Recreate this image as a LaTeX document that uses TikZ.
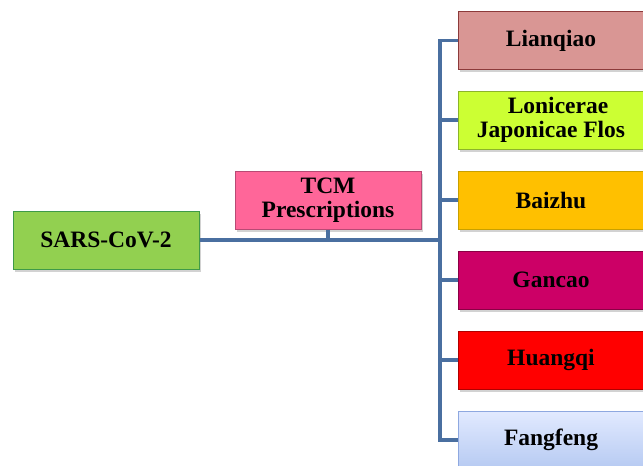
\documentclass[tikz,border=0pt]{standalone}
\usepackage{fontspec}
\setmainfont{Liberation Serif}
\usetikzlibrary{shadows}
\definecolor{linec}{HTML}{4A6FA0}
\definecolor{sarsf}{HTML}{92D050}\definecolor{sarsd}{HTML}{3E9A48}
\definecolor{tcmf}{HTML}{FF6699}\definecolor{tcmd}{HTML}{B84A74}
\definecolor{lqf}{HTML}{D99694}\definecolor{lqd}{HTML}{8C3A3A}
\definecolor{lof}{HTML}{CCFF33}\definecolor{lod}{HTML}{8CB42A}
\definecolor{bzf}{HTML}{FFC000}\definecolor{bzd}{HTML}{C8A000}
\definecolor{gcf}{HTML}{CC0066}\definecolor{gcd}{HTML}{8A0044}
\definecolor{hqf}{HTML}{FF0000}\definecolor{hqd}{HTML}{B00000}
\definecolor{fft}{HTML}{E2EAFF}\definecolor{ffb}{HTML}{B6CAF2}\definecolor{ffd}{HTML}{8EA8E0}
\begin{document}
\begin{tikzpicture}[x=1pt,y=-1pt,
  box/.style={draw, line width=1pt, minimum width=186pt, minimum height=58pt,
    font=\fontsize{23.5}{24.5}\selectfont\bfseries, align=center, inner sep=0pt,
    drop shadow={shadow xshift=2pt, shadow yshift=-2.5pt, opacity=0.35}},
  rbox/.style={box, minimum width=200pt},
  conn/.style={draw=linec, line width=3.5pt}]
\clip (0,0) rectangle (643,466);
\fill[white] (0,0) rectangle (643,466);
\node[box, fill=sarsf, draw=sarsd] (sars) at (106,240) {SARS-CoV-2};
\node[box, fill=tcmf, draw=tcmd] (tcm) at (328,200) {TCM\\Prescriptions};
\node[rbox, fill=lqf, draw=lqd] (b1) at (558,40.5) {Lianqiao\hspace*{14pt}};
\node[rbox, fill=lof, draw=lod] (b2) at (558,120) {Lonicerae\\Japonicae Flos\hspace*{14pt}};
\node[rbox, fill=bzf, draw=bzd] (b3) at (558,200) {Baizhu\hspace*{14pt}};
\node[rbox, fill=gcf, draw=gcd] (b4) at (558,280) {Gancao\hspace*{14pt}};
\node[rbox, fill=hqf, draw=hqd] (b5) at (558,360) {Huangqi\hspace*{14pt}};
\node[rbox, top color=fft, bottom color=ffb, draw=ffd] (b6) at (558,440) {Fangfeng\hspace*{14pt}};
\coordinate (j) at (440,240);
\draw[conn] (sars.east) -- (j);
\draw[conn] (tcm.south) -- (tcm.south |- j);
\draw[conn] (b1.west) -- (j |- b1.west) -- (j |- b6.west) -- (b6.west);
\foreach \b in {b2,b3,b4,b5} \draw[conn] (j |- \b.west) -- (\b.west);
\end{tikzpicture}
\end{document}
